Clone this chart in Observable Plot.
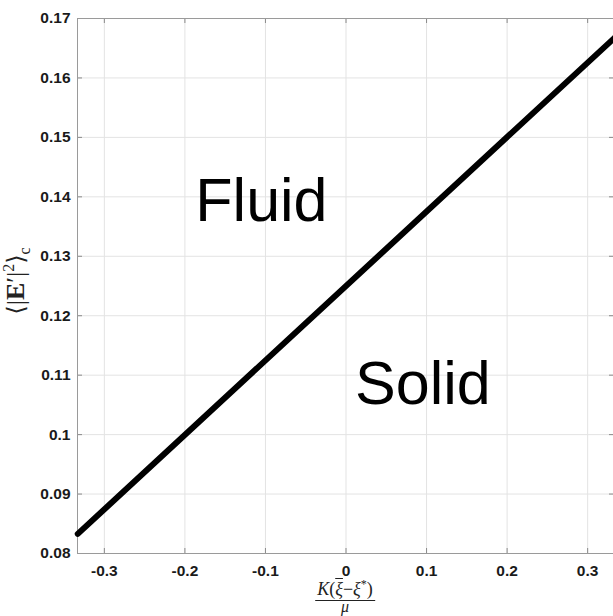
<!DOCTYPE html>
<html>
<head>
<meta charset="utf-8">
<script src="https://cdn.jsdelivr.net/npm/d3@7"></script>
<script src="https://cdn.jsdelivr.net/npm/@observablehq/plot@0.6"></script>
<style>
  html, body { margin: 0; padding: 0; background: #fff; }
  #wrap { position: relative; width: 613px; height: 616px; overflow: hidden; }
  .ylab { position: absolute; left: 17px; top: 281px; transform: translate(-50%, -50%) rotate(-90deg);
          font-family: "Liberation Serif", "DejaVu Serif", serif; font-size: 26px; white-space: nowrap; color: #222; line-height: 1; }
  .ylab .br { font-family: "DejaVu Serif", serif; font-size: 24px; }
  .xlab { position: absolute; left: 345px; top: 579px; transform: translateX(-50%);
          font-family: "Liberation Serif", "DejaVu Serif", serif; font-size: 18px; color: #222; text-align: center; line-height: 0.95; }
  .xlab .num { padding: 0 2px 2px 2px; border-bottom: 1px solid #222; white-space: nowrap; }
  .xlab .den { padding-top: 0px; font-style: italic; font-size: 16px; line-height: 0.8; }
</style>
</head>
<body>
<div id="wrap"></div>
<script>
// Data
const lineX = [-0.333, 0.333];
const lineY = [0.0833, 0.1667];
const xTicks = [-0.3, -0.2, -0.1, 0, 0.1, 0.2, 0.3];
const yTicks = [0.08, 0.09, 0.10, 0.11, 0.12, 0.13, 0.14, 0.15, 0.16, 0.17];
const regionLabels = ["Fluid", "Solid"];
const regionX = [-0.105, 0.0955];
const regionY = [0.1392, 0.1085];

const lineData = lineX.map((x, i) => ({x, y: lineY[i]}));
const labelData = regionLabels.map((t, i) => ({t, x: regionX[i], y: regionY[i]}));

const W = 613, H = 616, mL = 77, mR = -1, mT = 18, mB = 63;
const plotH = H - mT - mB, plotW = W - mL - mR;
const fmt = d => String(+d.toFixed(2));
const tickLen = 5;

const chart = Plot.plot({
  width: W, height: H,
  marginLeft: mL, marginRight: mR, marginTop: mT, marginBottom: mB,
  style: { fontFamily: "'Liberation Sans', Arial, sans-serif", background: "white" },
  x: { domain: [-1/3, 1/3], label: null },
  y: { domain: [0.08, 0.17], label: null },
  marks: [
    Plot.ruleX(xTicks, { stroke: "#e3e3e3", strokeWidth: 1 }),
    Plot.ruleY(yTicks, { stroke: "#e3e3e3", strokeWidth: 1 }),
    Plot.ruleX(xTicks, { stroke: "#8a8a8a", insetTop: plotH - tickLen }),
    Plot.ruleX(xTicks, { stroke: "#8a8a8a", insetBottom: plotH - tickLen }),
    Plot.ruleY(yTicks, { stroke: "#8a8a8a", insetRight: plotW - tickLen }),
    Plot.ruleY(yTicks, { stroke: "#8a8a8a", insetLeft: plotW - tickLen }),
    Plot.frame({ stroke: "#9a9a9a", strokeWidth: 1 }),
    Plot.axisX(xTicks, { tickSize: 0, tickPadding: 11, tickFormat: fmt, fontSize: 15.5, fontWeight: "bold", fill: "#1a1a1a", label: null }),
    Plot.axisY(yTicks, { tickSize: 0, tickPadding: 7, tickFormat: fmt, fontSize: 15.5, fontWeight: "bold", fill: "#1a1a1a", label: null }),
    Plot.line(lineData, { x: "x", y: "y", stroke: "black", strokeWidth: 6 }),
    Plot.text(labelData, { x: "x", y: "y", text: "t", fontSize: 61, fill: "black", textAnchor: "middle", lineAnchor: "middle" })
  ]
});

const wrap = document.getElementById("wrap");
wrap.appendChild(chart);

const yl = document.createElement("div");
yl.className = "ylab";
yl.innerHTML = "<span class='br'>⟨</span>|<b>E</b>′|<sup style='font-size:16px'>2</sup><span class='br'>⟩</span><sub style='font-size:16px'>c</sub>";
wrap.appendChild(yl);

const xl = document.createElement("div");
xl.className = "xlab";
xl.innerHTML = "<div class='num'><i>K</i>(<i style='text-decoration:overline'>ξ</i>−<i>ξ</i><sup style='font-size:12px'>*</sup>)</div><div class='den'>μ</div>";
wrap.appendChild(xl);
</script>
</body>
</html>
